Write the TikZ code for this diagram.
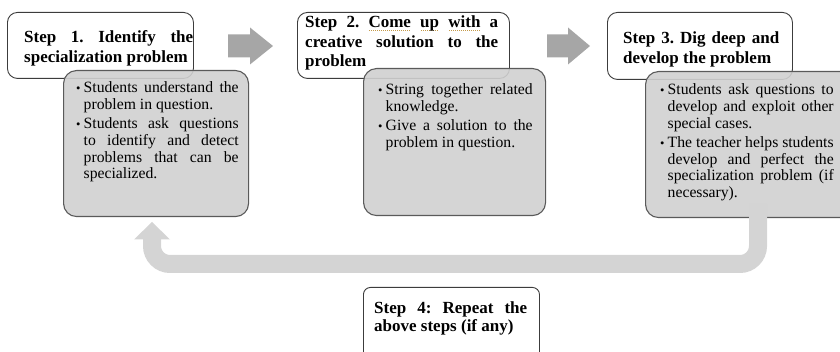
\documentclass[tikz,border=0pt]{standalone}
\usepackage{fontspec}
\setmainfont{Liberation Serif}
\usetikzlibrary{calc}
\definecolor{boxgray}{HTML}{D0D0D0}
\definecolor{grayline}{HTML}{5A5A5A}
\definecolor{headline}{HTML}{3C3C3C}
\definecolor{arrowgray}{HTML}{A6A6A6}
\definecolor{bandgray}{HTML}{D4D4D4}
\definecolor{ulcolor}{HTML}{C49A4A}
\newcommand\headfnt{\fontsize{17}{19.5}\selectfont\bfseries\frenchspacing\hyphenpenalty=10000\exhyphenpenalty=10000}
\newcommand\stepfourfnt{\fontsize{17}{18.5}\selectfont\bfseries\frenchspacing\hyphenpenalty=10000\exhyphenpenalty=10000}
\newcommand\bodyfnt{\fontsize{15.7}{16.7}\selectfont\frenchspacing\hyphenpenalty=10000\exhyphenpenalty=10000}
\newcommand\bitem[1]{\parskip=2.5pt\hangindent=7.5pt\hangafter=1\noindent\makebox[7.5pt][l]{\fontsize{12.5}{12.5}\selectfont\textbullet}#1\par}
\newcommand\gul[1]{\setbox0=\hbox{#1}\rlap{\raisebox{-3pt}{\textcolor{ulcolor}{\leaders\hbox to 2pt{\hss\rule{0.9pt}{0.9pt}\hss}\hskip\wd0}}}\box0\relax}
\tikzset{
  headbox/.style={draw=headline, line width=0.9pt, rounded corners=10pt, fill=white, inner sep=0pt, anchor=north west},
  lastbox/.style={draw=headline, line width=0.9pt, rounded corners=7pt, fill=white, inner sep=0pt, anchor=north west},
  graybox/.style={draw=grayline, line width=1.1pt, rounded corners=13pt, fill=boxgray, fill opacity=0.9, inner sep=0pt, anchor=north west},
  headtext/.style={inner sep=0pt, anchor=base west, align=justify, font=\headfnt},
  stepfourtext/.style={inner sep=0pt, anchor=base west, align=justify, font=\stepfourfnt},
  bodytext/.style={inner sep=0pt, anchor=base west, align=justify, font=\bodyfnt},
  blockarrow/.style={fill=arrowgray, draw=none},
  band/.style={draw=bandgray, line width=18pt, rounded corners=18pt},
  bandhead/.style={fill=bandgray, draw=none}
}
\begin{document}
\begin{tikzpicture}[x=1pt,y=-1pt]
\useasboundingbox (0,0) rectangle (840,352);
\clip (0,0) rectangle (840,352);

% heading boxes
\node[headbox, minimum width=186pt, minimum height=66pt] (h1) at (7,12) {};
\node[headbox, minimum width=212pt, minimum height=66pt] (h2) at (297,12) {};
\node[headbox, minimum width=185pt, minimum height=67pt] (h3) at (607,12) {};

\node[headtext, text width=169pt] (t1) at (24,43) {Step 1. Identify the specialization problem};
\node[headtext, text width=193pt] (t2) at (305,28) {Step 2. \gul{Come} \gul{up} \gul{with} a creative solution to the problem};
\node[headtext, text width=156pt] (t3) at (623,44) {Step 3. Dig deep and develop the problem};

% detail boxes
\node[graybox, minimum width=185pt, minimum height=146pt] (g1) at (63,70) {};
\node[graybox, minimum width=182pt, minimum height=147pt] (g2) at (363,68) {};
\node[graybox, minimum width=215pt, minimum height=146pt] (g3) at (645,71) {};

\node[bodytext, text width=162.5pt] (b1) at (76,93) {\bitem{Students understand the problem in question.}\bitem{Students ask questions to identify and detect problems that can be specialized.}};
\node[bodytext, text width=154.5pt] (b2) at (378,95) {\bitem{String together related knowledge.}\bitem{Give a solution to the problem in question.}};
\node[bodytext, text width=173.5pt] (b3) at (660,95) {\bitem{Students ask questions to develop and exploit other special cases.}\bitem{The teacher helps students develop and perfect the specialization problem (if necessary).}};

% block arrows between steps
\fill[blockarrow] (228,34.5) -- (250,34.5) -- (250,27.5) -- (273,46) -- (250,64.5) -- (250,57.5) -- (228,57.5) -- cycle;
\fill[blockarrow] (547,34.5) -- (568,34.5) -- (568,27.5) -- (590,46) -- (568,64.5) -- (568,57.5) -- (547,57.5) -- cycle;

% return connector
\coordinate (rs) at (758,204);
\coordinate (c1) at (758,264);
\coordinate (c2) at (152,264);
\coordinate (rh) at (152,239);
\coordinate (rt) at (152,222);
\draw[band] (rs) -- (c1) -- (c2) -- (rh);
\fill[bandhead] ($(rh)+(-18,0.5)$) -- ($(rh)+(18,0.5)$) -- (rt) -- cycle;

% step 4
\node[lastbox, minimum width=176pt, minimum height=80pt] (h4) at (363,287) {};
\node[stepfourtext, text width=153pt] (t4) at (374,313) {Step 4: Repeat the above steps (if any)};
\end{tikzpicture}
\end{document}
